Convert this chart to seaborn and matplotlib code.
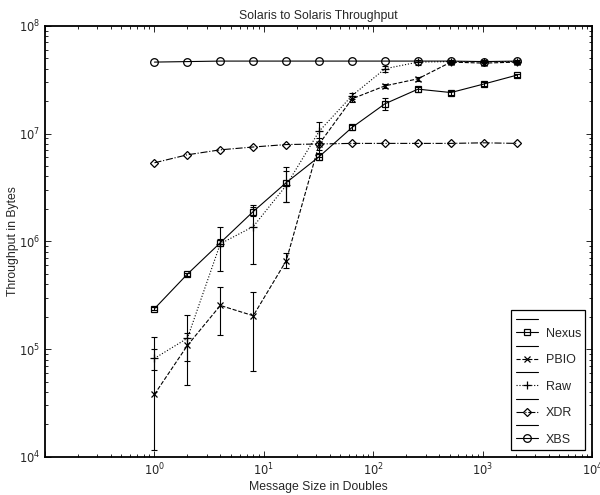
import numpy as np
import pandas as pd
import seaborn as sns
import matplotlib.pyplot as plt
from matplotlib.lines import Line2D

# message sizes (doubles)
sizes = [1, 2, 4, 8, 16, 32, 64, 128, 256, 512, 1024, 2048]

nexus = [2.37e5, 4.96e5, 9.7e5, 1.89e6, 3.5e6, 6.1e6, 1.14e7, 1.89e7, 2.58e7, 2.4e7, 2.88e7, 3.48e7]
pbio = [3.8e4, 1.08e5, 2.54e5, 2.04e5, 6.6e5, 8.0e6, 2.1e7, 2.77e7, 3.22e7, 4.6e7, 4.5e7, 4.6e7]
raw = [8.2e4, 1.26e5, 9.5e5, 1.37e6, 3.3e6, 1.05e7, 2.25e7, 3.99e7, 4.6e7, 4.65e7, 4.65e7, 4.65e7]
xdr = [5.35e6, 6.35e6, 7.06e6, 7.5e6, 7.9e6, 8.0e6, 8.1e6, 8.1e6, 8.1e6, 8.1e6, 8.2e6, 8.1e6]
xbs = [4.6e7, 4.65e7, 4.7e7, 4.7e7, 4.7e7, 4.7e7, 4.7e7, 4.7e7, 4.7e7, 4.7e7, 4.65e7, 4.7e7]

# error bar ends (low, high)
nexus_lo = [2.3e5, 4.8e5, 9.0e5, 1.7e6, 2.3e6, 5.7e6, 1.08e7, 1.66e7, 2.45e7, 2.3e7, 2.75e7, 3.35e7]
nexus_hi = [2.45e5, 5.1e5, 1.05e6, 2.1e6, 4.84e6, 6.6e6, 1.2e7, 2.13e7, 2.7e7, 2.5e7, 3.0e7, 3.6e7]
pbio_lo = [1.16e4, 4.66e4, 1.36e5, 6.3e4, 5.63e5, 7.0e6, 1.95e7, 2.65e7, 3.1e7, 4.45e7, 4.35e7, 4.45e7]
pbio_hi = [1.29e5, 1.4e5, 3.76e5, 3.37e5, 7.87e5, 9.0e6, 2.25e7, 2.9e7, 3.35e7, 4.75e7, 4.65e7, 4.75e7]
raw_lo = [6.4e4, 7.8e4, 5.3e5, 6.14e5, 2.3e6, 6.1e6, 2.1e7, 3.75e7, 4.35e7, 4.5e7, 4.5e7, 4.5e7]
raw_hi = [1.0e5, 2.08e5, 1.36e6, 2.15e6, 4.5e6, 1.29e7, 2.4e7, 4.2e7, 4.8e7, 4.8e7, 4.8e7, 4.8e7]

xtick_vals = [1e-1, 1e0, 1e1, 1e2, 1e3, 1e4]
xtick_labels = ["", "$10^{0}$", "$10^{1}$", "$10^{2}$", "$10^{3}$", "$10^{4}$"]
ytick_vals = [1e4, 1e5, 1e6, 1e7, 1e8]
ytick_labels = ["$10^{4}$", "$10^{5}$", "$10^{6}$", "$10^{7}$", "$10^{8}$"]

series = [
    ("Nexus", nexus, nexus_lo, nexus_hi, "-", "s", 4.5),
    ("PBIO", pbio, pbio_lo, pbio_hi, "--", "x", 4),
    ("Raw", raw, raw_lo, raw_hi, ":", "+", 5.5),
    ("XDR", xdr, None, None, "-.", "D", 4.5),
    ("XBS", xbs, None, None, "-", "o", 5.5),
]

sns.set_style("ticks")
plt.rcParams["font.family"] = ["Liberation Sans", "DejaVu Sans"]

fs = 8.8
fig = plt.figure(figsize=(6, 4.95), dpi=100)
ax = fig.add_axes([0.075, 0.077, 0.912, 0.871])

handles = []
labels = []
for name, vals, lo, hi, ls, mk, ms in series:
    df = pd.DataFrame({"size": sizes, "thr": vals})
    sns.lineplot(data=df, x="size", y="thr", ax=ax, color="black", linewidth=0.8,
                 linestyle=ls, marker=mk, markersize=ms, markerfacecolor="none",
                 markeredgecolor="black", markeredgewidth=0.9)
    if lo is not None:
        v = np.array(vals)
        yerr = [v - np.array(lo), np.array(hi) - v]
        ax.errorbar(sizes, vals, yerr=yerr, fmt="none", ecolor="black",
                    elinewidth=0.8, capsize=2.2, capthick=0.8)
    handles.append(Line2D([], [], color="black", linewidth=0.8))
    labels.append(" ")
    handles.append(Line2D([], [], color="black", linewidth=0.8, linestyle=ls,
                          marker=mk, markersize=ms, markerfacecolor="none",
                          markeredgewidth=0.9))
    labels.append(name)

ax.set_xscale("log")
ax.set_yscale("log")
ax.set_xlim(1e-1, 1e4)
ax.set_ylim(1e4, 1e8)
ax.set_xticks(xtick_vals, xtick_labels)
ax.set_yticks(ytick_vals, ytick_labels)

ax.set_title("Solaris to Solaris Throughput", fontsize=fs, pad=5)
ax.set_xlabel("Message Size in Doubles", fontsize=fs, labelpad=2)
ax.set_ylabel("Throughput in Bytes", fontsize=fs, labelpad=0)

ax.tick_params(which="both", direction="in", top=True, right=True, labelsize=8.3, width=0.7)
ax.tick_params(which="major", length=4)
ax.tick_params(which="minor", length=2)
for sp in ax.spines.values():
    sp.set_linewidth(1.3)
    sp.set_color("black")

leg = ax.legend(handles, labels, loc="lower right", fontsize=9, frameon=True,
                fancybox=False, edgecolor="black", framealpha=1,
                handlelength=1.8, labelspacing=0.1, borderaxespad=0.55,
                handletextpad=0.6, borderpad=0.35)
leg.get_frame().set_linewidth(0.9)

fig.savefig("out.png", dpi=100)
